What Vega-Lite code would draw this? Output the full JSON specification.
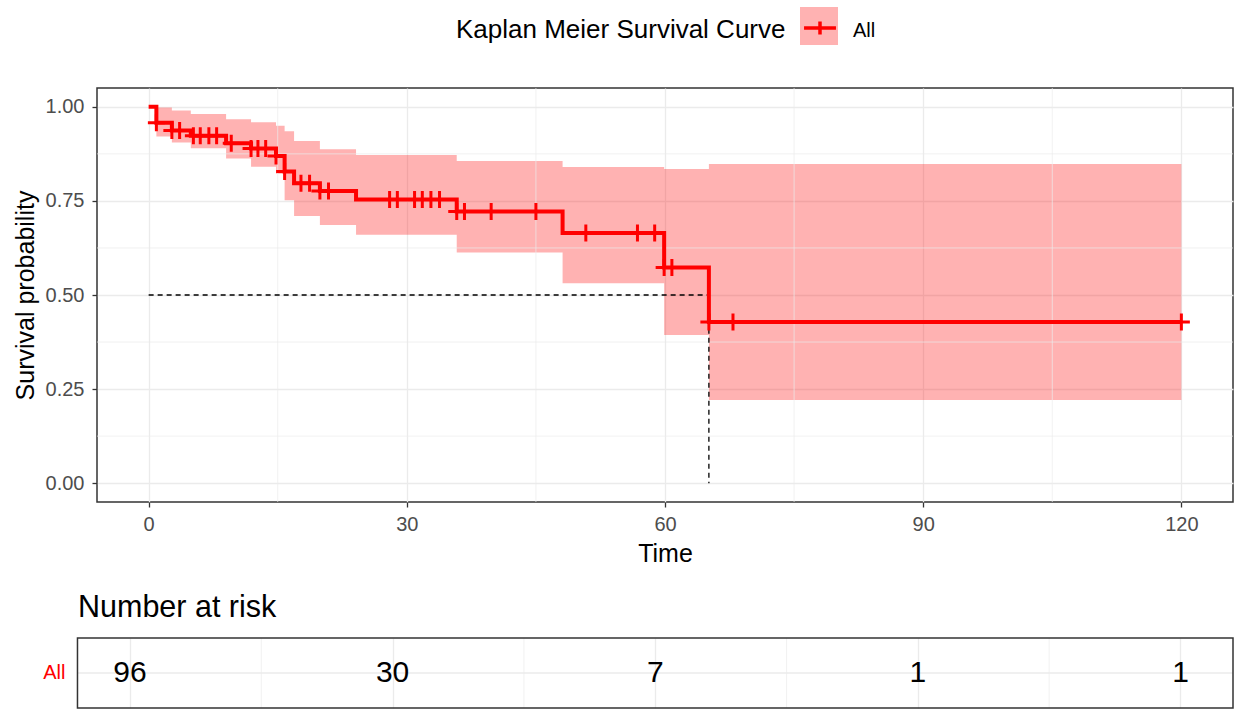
{
  "$schema": "https://vega.github.io/schema/vega-lite/v6.json",
  "background": "white",
  "padding": {"left": 12, "top": 7, "right": 0, "bottom": 0},
  "config": {
    "font": "Liberation Sans",
    "view": {"stroke": "#333333", "strokeWidth": 1.5},
    "axis": {
      "domain": false,
      "gridColor": "#EBEBEB",
      "gridWidth": 1.3,
      "tickColor": "#333333",
      "tickWidth": 1.3,
      "tickSize": 5,
      "labelColor": "#4D4D4D",
      "labelFontSize": 20,
      "labelFont": "Liberation Sans",
      "titleFont": "Liberation Sans",
      "titleFontSize": 25,
      "titleFontWeight": "normal",
      "titleColor": "#000000"
    },
    "legend": {"padding": 0}
  },
  "datasets": {
    "curve": [
      {"time": 0, "surv": 1.0, "lower": 1.0, "upper": 1.0, "strata": "All"},
      {"time": 0.9, "surv": 0.958, "lower": 0.921, "upper": 0.998, "strata": "All"},
      {"time": 2.7, "surv": 0.937, "lower": 0.905, "upper": 0.99, "strata": "All"},
      {"time": 4.9, "surv": 0.923, "lower": 0.89, "upper": 0.981, "strata": "All"},
      {"time": 9.0, "surv": 0.903, "lower": 0.863, "upper": 0.967, "strata": "All"},
      {"time": 11.9, "surv": 0.889, "lower": 0.841, "upper": 0.959, "strata": "All"},
      {"time": 14.8, "surv": 0.869, "lower": 0.822, "upper": 0.95, "strata": "All"},
      {"time": 15.8, "surv": 0.828, "lower": 0.752, "upper": 0.935, "strata": "All"},
      {"time": 16.9, "surv": 0.797, "lower": 0.71, "upper": 0.909, "strata": "All"},
      {"time": 19.9, "surv": 0.776, "lower": 0.686, "upper": 0.887, "strata": "All"},
      {"time": 24.1, "surv": 0.754, "lower": 0.66, "upper": 0.872, "strata": "All"},
      {"time": 35.8, "surv": 0.722, "lower": 0.613, "upper": 0.856, "strata": "All"},
      {"time": 48.1, "surv": 0.665, "lower": 0.531, "upper": 0.84, "strata": "All"},
      {"time": 59.9, "surv": 0.573, "lower": 0.394, "upper": 0.835, "strata": "All"},
      {"time": 65.1, "surv": 0.428, "lower": 0.221, "upper": 0.848, "strata": "All"},
      {"time": 120, "surv": 0.428, "lower": 0.221, "upper": 0.848, "strata": "All"}
    ],
    "censor": [
      {"time": 0.9, "surv": 0.958},
      {"time": 2.7, "surv": 0.937},
      {"time": 3.6, "surv": 0.937},
      {"time": 5.2, "surv": 0.923},
      {"time": 6.0, "surv": 0.923},
      {"time": 7.0, "surv": 0.923},
      {"time": 7.9, "surv": 0.923},
      {"time": 9.6, "surv": 0.903},
      {"time": 11.9, "surv": 0.889},
      {"time": 12.7, "surv": 0.889},
      {"time": 13.6, "surv": 0.889},
      {"time": 14.8, "surv": 0.869},
      {"time": 15.8, "surv": 0.828},
      {"time": 17.7, "surv": 0.797},
      {"time": 18.7, "surv": 0.797},
      {"time": 19.9, "surv": 0.776},
      {"time": 20.9, "surv": 0.776},
      {"time": 28.0, "surv": 0.754},
      {"time": 28.9, "surv": 0.754},
      {"time": 30.9, "surv": 0.754},
      {"time": 31.8, "surv": 0.754},
      {"time": 32.8, "surv": 0.754},
      {"time": 33.8, "surv": 0.754},
      {"time": 35.8, "surv": 0.722},
      {"time": 36.7, "surv": 0.722},
      {"time": 39.8, "surv": 0.722},
      {"time": 45.0, "surv": 0.722},
      {"time": 50.8, "surv": 0.665},
      {"time": 56.8, "surv": 0.665},
      {"time": 58.8, "surv": 0.665},
      {"time": 59.9, "surv": 0.573},
      {"time": 60.8, "surv": 0.573},
      {"time": 65.1, "surv": 0.428},
      {"time": 67.9, "surv": 0.428},
      {"time": 120, "surv": 0.428}
    ],
    "median": [
      {"k": 1, "time": 0, "surv": 0.5},
      {"k": 2, "time": 65.1, "surv": 0.5},
      {"k": 3, "time": 65.1, "surv": 0}
    ],
    "minor_x": [{"time": 15}, {"time": 45}, {"time": 75}, {"time": 105}],
    "minor_y": [{"surv": 0.125}, {"surv": 0.375}, {"surv": 0.625}, {"surv": 0.875}],
    "strata": [{"strata": "All"}],
    "risk": [
      {"time": 0, "n": 96, "strata": "All"},
      {"time": 30, "n": 30, "strata": "All"},
      {"time": 60, "n": 7, "strata": "All"},
      {"time": 90, "n": 1, "strata": "All"},
      {"time": 120, "n": 1, "strata": "All"}
    ]
  },
  "columns": 1,
  "spacing": 25,
  "concat": [
    {
      "width": 1136,
      "height": 414,
      "layer": [
        {
          "data": {"name": "curve"},
          "mark": {"type": "area", "interpolate": "step-after", "fillOpacity": 0.3},
          "encoding": {
            "x": {
              "field": "time", "type": "quantitative",
              "scale": {"domain": [-6, 126], "nice": false, "zero": false},
              "axis": {"values": [0, 30, 60, 90, 120], "title": "Time", "grid": true, "labelPadding": 7, "titlePadding": 7, "labelFlush": false}
            },
            "y": {
              "field": "lower", "type": "quantitative",
              "scale": {"domain": [-0.05, 1.05], "nice": false, "zero": false},
              "axis": {"values": [0, 0.25, 0.5, 0.75, 1], "format": ".2f", "title": "Survival probability", "grid": true, "labelPadding": 8, "titlePadding": 7, "minExtent": 52, "maxExtent": 52}
            },
            "y2": {"field": "upper"},
            "fill": {
              "field": "strata", "type": "nominal",
              "scale": {"range": ["#FF0000"]},
              "legend": {
                "title": "Kaplan Meier Survival Curve",
                "orient": "none", "legendX": 359, "legendY": -81,
                "direction": "horizontal", "titleOrient": "left",
                "titleFontSize": 26, "titleFontWeight": "normal", "titleColor": "#000000", "titleLimit": 1000,
                "titlePadding": 14, "titleAnchor": "end", "titleBaseline": "bottom",
                "symbolType": "square", "symbolSize": 1444, "symbolOpacity": 0.3, "symbolStrokeWidth": 0,
                "labelFontSize": 20, "labelColor": "#000000", "labelOffset": 15,
                "encode": {
                  "title": {"update": {"dy": {"value": -2}}},
                  "labels": {"update": {"dy": {"value": 5}}}
                }
              }
            }
          }
        },
        {
          "data": {"name": "minor_x"},
          "mark": {"type": "rule", "color": "#EBEBEB", "strokeWidth": 0.7},
          "encoding": {"x": {"field": "time", "type": "quantitative"}}
        },
        {
          "data": {"name": "minor_y"},
          "mark": {"type": "rule", "color": "#EBEBEB", "strokeWidth": 0.7},
          "encoding": {"y": {"field": "surv", "type": "quantitative"}}
        },
        {
          "data": {"name": "median"},
          "mark": {"type": "line", "color": "#000000", "strokeWidth": 1.3, "strokeDash": [5, 4]},
          "encoding": {
            "x": {"field": "time", "type": "quantitative"},
            "y": {"field": "surv", "type": "quantitative"},
            "order": {"field": "k", "type": "quantitative"}
          }
        },
        {
          "data": {"name": "curve"},
          "mark": {"type": "line", "interpolate": "step-after", "strokeWidth": 4},
          "encoding": {
            "x": {"field": "time", "type": "quantitative"},
            "y": {"field": "surv", "type": "quantitative"},
            "stroke": {
              "field": "strata", "type": "nominal",
              "scale": {"domain": ["All"], "range": ["#FF0000"]},
              "legend": {
                "title": null,
                "orient": "none", "legendX": 702, "legendY": -81,
                "direction": "horizontal",
                "symbolType": "M-0.84,0H0.84M0,-0.34V0.34", "symbolSize": 1444, "symbolStrokeWidth": 3.5, "symbolOpacity": 1,
                "labelExpr": "''", "labelFontSize": 20
              }
            }
          }
        },
        {
          "data": {"name": "censor"},
          "mark": {"type": "point", "shape": "M-1,0H1M0,-1V1", "size": 289, "filled": false, "color": "#FF0000", "strokeWidth": 3, "opacity": 1},
          "encoding": {
            "x": {"field": "time", "type": "quantitative"},
            "y": {"field": "surv", "type": "quantitative"}
          }
        }
      ]
    },
    {
      "width": 1136,
      "height": 70,
      "view": {"stroke": null},
      "title": {"text": "Number at risk", "anchor": "start", "frame": "group", "dx": -19, "fontSize": 30.5, "fontWeight": "normal", "color": "#000000", "offset": 14},
      "layer": [
        {
          "data": {"name": "strata"},
          "mark": {"type": "rule", "color": "#EBEBEB", "strokeWidth": 1.3},
          "encoding": {
            "y": {"field": "strata", "type": "nominal"},
            "x": {"datum": -6, "type": "quantitative"},
            "x2": {"datum": 126}
          }
        },
        {
          "data": {"name": "minor_x"},
          "mark": {"type": "rule", "color": "#EBEBEB", "strokeWidth": 0.7},
          "encoding": {"x": {"field": "time", "type": "quantitative"}}
        },
        {
          "data": {"name": "risk"},
          "mark": {"type": "text", "fontSize": 30, "color": "#000000"},
          "encoding": {
            "x": {
              "field": "time", "type": "quantitative",
              "scale": {"domain": [-3.77, 126], "nice": false, "zero": false},
              "axis": {"values": [0, 30, 60, 90, 120], "labels": false, "ticks": false, "title": null, "grid": true}
            },
            "y": {
              "field": "strata", "type": "nominal",
              "axis": {"title": null, "ticks": false, "tickSize": 0, "grid": false, "labelColor": "#FF0000", "labelFontSize": 20, "labelPadding": 32}
            },
            "text": {"field": "n", "type": "quantitative"}
          }
        },
        {
          "data": {"name": "strata"},
          "mark": {"type": "rect", "filled": false, "color": "#333333", "strokeWidth": 1.5},
          "encoding": {
            "x": {"datum": -6, "type": "quantitative"},
            "x2": {"datum": 126}
          }
        }
      ]
    }
  ]
}
